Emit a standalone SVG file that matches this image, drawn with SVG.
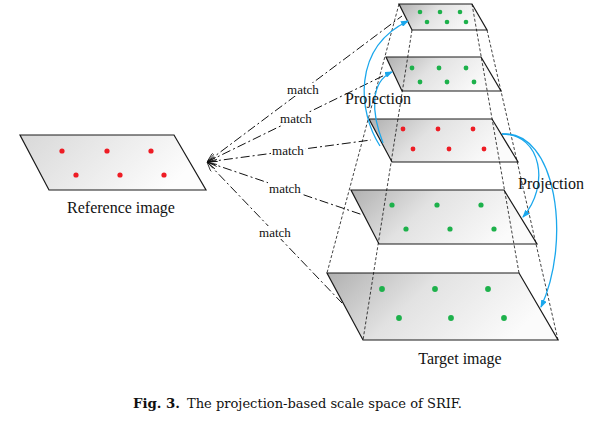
<svg xmlns="http://www.w3.org/2000/svg" width="611" height="431" viewBox="0 0 611 431">
<style>
.plane{stroke:#1a1a1a;stroke-width:1.2;stroke-linejoin:miter}
.g{fill:#1db14b}
.r{fill:#ee1c24}
.py{stroke:#111;stroke-width:0.8;stroke-dasharray:3 2;fill:none}
.m{stroke:#111;stroke-width:1;stroke-dasharray:9 3 2 3;fill:none;marker-start:url(#oa)}
.proj{stroke:#1aa7ec;stroke-width:1.3;fill:none;marker-end:url(#ba)}
.lbl{font-family:'Liberation Serif','Times New Roman',Tinos,serif;fill:#111}
.bg{fill:#fff}
</style>
<defs>
<linearGradient id="gp" x1="0" y1="0" x2="1" y2="0.3">
<stop offset="0" stop-color="#b0b0b0"/>
<stop offset="0.45" stop-color="#e2e2e2"/>
<stop offset="1" stop-color="#fbfbfb"/>
</linearGradient>
<linearGradient id="gr" x1="0" y1="0" x2="1" y2="0.3">
<stop offset="0" stop-color="#d8d8d8"/>
<stop offset="1" stop-color="#fdfdfd"/>
</linearGradient>
<marker id="oa" viewBox="0 0 10 8" refX="10" refY="4" markerWidth="10" markerHeight="8" markerUnits="userSpaceOnUse" orient="auto-start-reverse">
<path d="M0,0 L10,4 L0,8" fill="none" stroke="#111" stroke-width="0.8"/>
</marker>
<marker id="ba" viewBox="0 0 8 6" refX="7" refY="3" markerWidth="8" markerHeight="6" markerUnits="userSpaceOnUse" orient="auto">
<path d="M0,0 L8,3 L0,6 Z" fill="#1aa7ec"/>
</marker>
</defs>
<rect width="611" height="431" fill="#fff"/>

<g id="reference-image">
<polygon class="plane" points="20,135 174,135 206,190 49,190" fill="url(#gr)"/>
<circle class="r" cx="62" cy="151" r="2.6"/>
<circle class="r" cx="107" cy="151" r="2.6"/>
<circle class="r" cx="151" cy="151" r="2.6"/>
<circle class="r" cx="76" cy="175" r="2.6"/>
<circle class="r" cx="120" cy="175" r="2.6"/>
<circle class="r" cx="164" cy="175" r="2.6"/>
<text class="lbl" font-family="Liberation Serif, serif" x="121" y="213" font-size="16" text-anchor="middle">Reference image</text>
</g>

<g id="level1">
<polygon class="plane" points="399,4 472,4 487,30 412,30" fill="url(#gp)"/>
<circle class="g" cx="420" cy="12" r="2.3"/>
<circle class="g" cx="440" cy="12" r="2.3"/>
<circle class="g" cx="460" cy="12" r="2.3"/>
<circle class="g" cx="427" cy="22" r="2.3"/>
<circle class="g" cx="447" cy="22" r="2.3"/>
<circle class="g" cx="466" cy="22" r="2.3"/>
</g>
<g id="level2">
<polygon class="plane" points="386,57 481,57 501,91 402,91" fill="url(#gp)"/>
<circle class="g" cx="412" cy="68" r="2.4"/>
<circle class="g" cx="439" cy="68" r="2.4"/>
<circle class="g" cx="466" cy="68" r="2.4"/>
<circle class="g" cx="420" cy="82" r="2.4"/>
<circle class="g" cx="447" cy="82" r="2.4"/>
<circle class="g" cx="474" cy="82" r="2.4"/>
</g>
<g id="level3">
<polygon class="plane" points="369,119 492,119 518,162 392,162" fill="url(#gp)"/>
<circle class="r" cx="403" cy="129" r="2.4"/>
<circle class="r" cx="438" cy="129" r="2.4"/>
<circle class="r" cx="473" cy="129" r="2.4"/>
<circle class="r" cx="413" cy="149" r="2.4"/>
<circle class="r" cx="449" cy="149" r="2.4"/>
<circle class="r" cx="484" cy="149" r="2.4"/>
</g>
<g id="level4">
<polygon class="plane" points="351,190 504,190 537,244 379,244" fill="url(#gp)"/>
<circle class="g" cx="392" cy="205" r="2.6"/>
<circle class="g" cx="437" cy="205" r="2.6"/>
<circle class="g" cx="481" cy="205" r="2.6"/>
<circle class="g" cx="406" cy="229" r="2.6"/>
<circle class="g" cx="450" cy="229" r="2.6"/>
<circle class="g" cx="494" cy="229" r="2.6"/>
</g>
<g id="level5">
<polygon class="plane" points="327,273 519,273 558,340 363,340" fill="url(#gp)"/>
<circle class="g" cx="382" cy="289" r="2.9"/>
<circle class="g" cx="435" cy="289" r="2.9"/>
<circle class="g" cx="488" cy="289" r="2.9"/>
<circle class="g" cx="399" cy="318" r="2.9"/>
<circle class="g" cx="451" cy="318" r="2.9"/>
<circle class="g" cx="504" cy="318" r="2.9"/>
<text class="lbl" font-family="Liberation Serif, serif" x="460" y="364" font-size="16" text-anchor="middle">Target image</text>
</g>

<g id="connectors">
<line class="py" x1="399" y1="4" x2="327" y2="273"/>
<line class="py" x1="412" y1="30" x2="363" y2="340"/>
<line class="py" x1="472" y1="4" x2="519" y2="273"/>
<line class="py" x1="487" y1="30" x2="558" y2="340"/>

<line class="m" x1="207" y1="162" x2="402" y2="16"/>
<line class="m" x1="207" y1="162" x2="391" y2="72"/>
<line class="m" x1="207" y1="162" x2="371" y2="140"/>
<line class="m" x1="207" y1="162" x2="363" y2="215"/>
<line class="m" x1="207" y1="162" x2="342" y2="303"/>

<rect class="bg" x="286" y="83" width="34" height="13"/>
<text class="lbl" font-family="Liberation Serif, serif" x="303" y="94" font-size="13" text-anchor="middle">match</text>
<rect class="bg" x="279" y="112" width="34" height="13"/>
<text class="lbl" font-family="Liberation Serif, serif" x="296" y="123" font-size="13" text-anchor="middle">match</text>
<rect class="bg" x="271" y="144" width="34" height="13"/>
<text class="lbl" font-family="Liberation Serif, serif" x="288" y="155" font-size="13" text-anchor="middle">match</text>
<rect class="bg" x="268" y="182" width="34" height="13"/>
<text class="lbl" font-family="Liberation Serif, serif" x="285" y="193" font-size="13" text-anchor="middle">match</text>
<rect class="bg" x="258" y="226" width="34" height="13"/>
<text class="lbl" font-family="Liberation Serif, serif" x="275" y="237" font-size="13" text-anchor="middle">match</text>

<path class="proj" d="M380,146 C358,112 352,48 408,21"/>
<path class="proj" d="M383,143 C371,112 370,82 392,72"/>
<path class="proj" d="M502,134 C542,134 550,186 523,217"/>
<path class="proj" d="M502,134 C556,130 572,240 541,307"/>
<text class="lbl" font-family="Liberation Serif, serif" x="378" y="104" font-size="16" text-anchor="middle">Projection</text>
<text class="lbl" font-family="Liberation Serif, serif" x="551" y="189" font-size="16" text-anchor="middle">Projection</text>
</g>

<g id="caption">
<text x="133" y="408" font-family="DejaVu Serif, serif" font-size="12.5" font-weight="bold" fill="#111" textLength="47" lengthAdjust="spacingAndGlyphs">Fig. 3.</text>
<text x="187" y="408" font-family="DejaVu Serif, serif" font-size="12.5" fill="#111" textLength="275" lengthAdjust="spacingAndGlyphs">The projection-based scale space of SRIF.</text>
</g>
</svg>
